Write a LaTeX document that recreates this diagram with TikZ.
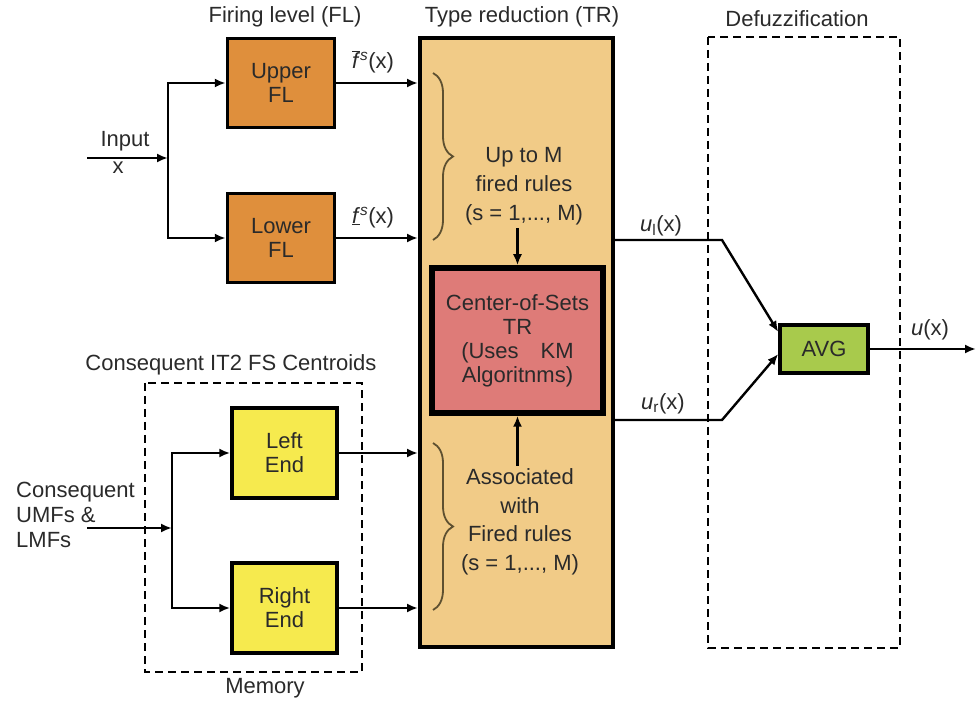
\documentclass[tikz,border=0pt]{standalone}
\usepackage{fontspec}
\setmainfont{Liberation Sans}
\usepackage{xcolor}
\usepackage{tikz}
\usetikzlibrary{shapes,arrows,arrows.meta,positioning,fit,calc,backgrounds,decorations.pathreplacing}
\definecolor{florange}{HTML}{DF8F3C}
\definecolor{trfill}{HTML}{F1CB87}
\definecolor{cosred}{HTML}{DE7B78}
\definecolor{endyellow}{HTML}{F6EA4E}
\definecolor{avggreen}{HTML}{A8CA4C}
\definecolor{bracebrown}{HTML}{5E5030}
\definecolor{tekst}{HTML}{2A2A2A}

\begin{document}
\begin{tikzpicture}[x=1pt, y=-1pt, >={Latex[length=11pt,width=9pt]}, line width=2.4pt, text=tekst,
        font=\fontsize{22}{24}\selectfont,
        blok/.style={draw, line width=3.5pt, align=center, inner sep=0pt},
        okvir/.style={draw, line width=2.6pt, dash pattern=on 8pt off 5pt},
        zagrada/.style={draw=bracebrown, line width=1.8pt, decorate, decoration={brace, amplitude=20pt}},
        lbl/.style={inner sep=0pt}]
        \useasboundingbox (0,0) rectangle (978,703);

        % Firing level
        \node[lbl] (fltitle) at (285,17) {Firing level (FL)};
        \node[blok, fill=florange, minimum width=107pt, minimum height=89pt] (upper) at (281,83) {Upper\\FL};
        \node[blok, fill=florange, minimum width=107pt, minimum height=89pt] (lower) at (281,238) {Lower\\FL};
        \coordinate (inx) at (87,158);
        \coordinate (split) at (168,158);
        \node[lbl] (inlabel) at (125,141) {Input};
        \node[lbl] (xlabel) at (118,168) {x};
        \draw[->] (inx) -- (split);
        \draw[->] (split) |- (upper.west);
        \draw[->] (split) |- (lower.west);

        % Type reduction
        \node[lbl] (trtitle) at (522,17) {Type reduction (TR)};
        \node[draw, line width=4pt, fill=trfill, minimum width=193pt, minimum height=609pt] (tr) at (516.5,342.5) {};
        \draw[->] (upper.east) -- (upper.east -| tr.west) node[lbl, pos=0.45, above=9pt] (fup) {$\overline{\mbox{\textit{f}}}$\textsuperscript{\textit{s}}(x)};
        \draw[->] (lower.east) -- (lower.east -| tr.west) node[lbl, pos=0.45, above=9pt] (flow) {\underline{\textit{f}}\textsuperscript{\textit{s}}(x)};
        \draw[zagrada] (433,73) -- (433,240);
        \node[align=center, font=\fontsize{22}{29}\selectfont, inner sep=2pt] (upto) at (524,186) {Up to M\\fired rules\\(s = 1,..., M)};
        \node[blok, line width=5.5pt, fill=cosred, minimum width=171pt, minimum height=145pt] (cos) at (517.5,340.5) {Center-of-Sets\\TR\\(Uses\quad KM\\Algoritnms)};
        \draw[->] (cos.north |- upto.south) -- (cos.north);

        % Consequent centroids
        \node[lbl] (cenTitle) at (231,365) {Consequent IT2 FS Centroids};
        \draw[okvir] (145,383) rectangle (362,672);
        \node[lbl] (memory) at (265,688) {Memory};
        \node[blok, fill=endyellow, minimum width=105pt, minimum height=90pt] (leftend) at (284.5,453) {Left\\End};
        \node[blok, fill=endyellow, minimum width=105pt, minimum height=90pt] (rightend) at (284.5,608) {Right\\End};
        \node[lbl, anchor=west, align=left, font=\fontsize{22}{25}\selectfont] (conslabel) at (15,515) {Consequent\\UMFs \&\\LMFs};
        \coordinate (consin) at (87,528);
        \coordinate (split2) at (172,528);
        \draw[->] (consin) -- (split2);
        \draw[->] (split2) |- (leftend.west);
        \draw[->] (split2) |- (rightend.west);
        \draw[->] (leftend.east) -- (leftend.east -| tr.west);
        \draw[->] (rightend.east) -- (rightend.east -| tr.west);
        \draw[zagrada] (433,443) -- (433,610);
        \node[align=center, font=\fontsize{22}{28.5}\selectfont, inner sep=2pt] (assoc) at (520,522) {Associated\\with\\Fired rules\\(s = 1,..., M)};
        \draw[->] (cos.south |- assoc.north) -- (cos.south);

        % Defuzzification
        \node[lbl] (dftitle) at (797,19) {Defuzzification};
        \draw[okvir] (708,37) rectangle (900,648);
        \node[blok, fill=avggreen, minimum width=88pt, minimum height=48pt] (avg) at (824,349) {AVG};
        \coordinate (ul) at (tr.east |- 0,240);
        \coordinate (ur) at (tr.east |- 0,420);
        \coordinate (out) at (976,349);
        \draw[->] (ul) -- ++(107,0) -- ([yshift=17pt]avg.west);
        \draw[->] (ur) -- ++(107,0) -- ([yshift=-5pt]avg.west);
        \node[lbl] (ullabel) at (661,226) {\textit{u}\textsubscript{l}(x)};
        \node[lbl] (urlabel) at (663,404) {\textit{u}\textsubscript{r}(x)};
        \draw[->] (avg.east) -- (out);
        \node[lbl] (ulabel) at (930,330) {\textit{u}(x)};
    \end{tikzpicture}
\end{document}
